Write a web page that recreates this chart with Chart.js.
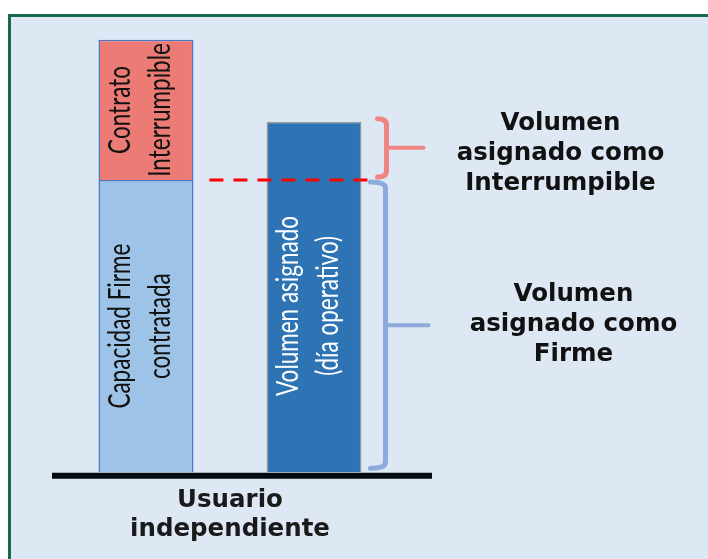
<!DOCTYPE html>
<html lang="es">
<head>
<meta charset="utf-8">
<title>Capacidad firme e interrumpible</title>
<script src="https://cdn.jsdelivr.net/npm/chart.js@4.4.1/dist/chart.umd.min.js"></script>
<style>
  html, body { margin: 0; padding: 0; background: #ffffff; overflow: hidden; }
  #marco {
    position: absolute; left: 8px; top: 14px; width: 720px; height: 600px;
    border: 3px solid #17694a; background: #dde8f4;
  }
  #grafico { position: absolute; left: 0; top: 0; }
</style>
</head>
<body>
<div id="marco"></div>
<canvas id="grafico" width="708" height="559"></canvas>
<script>
// -----------------------------------------------
// datos (valores relativos)
// -----------------------------------------------
const categorias = [["Usuario", "independiente"]];
const capacidadFirme = [100];
const contratoInterrumpible = [48];
const volumenAsignado = [120];

const etiquetaFirme = ["Capacidad Firme", "contratada"];
const etiquetaInterr = ["Contrato", "Interrumpible"];
const etiquetaAsignado = ["Volumen asignado", "(día operativo)"];

const textoInterr = ["Volumen", "asignado como", "Interrumpible"];
const textoFirme = ["Volumen", "asignado como", "Firme"];

// -----------------------------------------------
// textos girados dentro de las barras
// -----------------------------------------------
function textoVertical(ctx, lineas, cx, cy, color) {
  ctx.save();
  ctx.translate(cx, cy);
  ctx.rotate(-Math.PI / 2);
  ctx.scale(0.75, 1);
  ctx.fillStyle = color;
  ctx.font = "30px Lato";
  ctx.textAlign = "center";
  ctx.textBaseline = "middle";
  lineas.forEach((t, i) => {
    ctx.fillText(t, 0, (i - (lineas.length - 1) / 2) * 40 - 6);
  });
  ctx.restore();
}

// llave "}" a la derecha de la barra
function llave(ctx, x, yTop, yBot, curva, tallo, color) {
  const mid = (yTop + yBot) / 2;
  ctx.save();
  ctx.strokeStyle = color;
  ctx.lineWidth = 5;
  ctx.lineCap = "round";
  ctx.lineJoin = "round";
  ctx.beginPath();
  ctx.moveTo(x - curva, yTop);
  ctx.quadraticCurveTo(x, yTop, x, yTop + 6);
  ctx.lineTo(x, yBot - 6);
  ctx.quadraticCurveTo(x, yBot, x - curva, yBot);
  ctx.stroke();
  ctx.lineWidth = 4;
  ctx.beginPath();
  ctx.moveTo(x, mid);
  ctx.lineTo(x + tallo, mid);
  ctx.stroke();
  ctx.restore();
}

function bloqueTexto(ctx, lineas, cx, cy) {
  ctx.save();
  ctx.fillStyle = "#111111";
  ctx.font = "bold 24.5px 'DejaVu Sans'";
  ctx.textAlign = "center";
  ctx.textBaseline = "middle";
  lineas.forEach((t, i) => {
    ctx.fillText(t, cx, cy + (i - (lineas.length - 1) / 2) * 30);
  });
  ctx.restore();
}

const anotaciones = {
  id: "anotaciones",
  afterDatasetsDraw(chart) {
    const ctx = chart.ctx;
    const y = chart.scales.y;
    const area = chart.chartArea;
    const firme = chart.getDatasetMeta(0).data[0];
    const interr = chart.getDatasetMeta(1).data[0];
    const asig = chart.getDatasetMeta(2).data[0];

    // línea base (eje)
    const y0 = y.getPixelForValue(0);
    ctx.save();
    ctx.strokeStyle = "#050a10";
    ctx.lineWidth = 6;
    ctx.beginPath();
    ctx.moveTo(area.left, y0 + 3.5);
    ctx.lineTo(area.right + 24, y0 + 3.5);
    ctx.stroke();
    ctx.restore();

    // textos en las barras
    textoVertical(ctx, etiquetaFirme, firme.x, (firme.y + firme.base) / 2, "#111111");
    textoVertical(ctx, etiquetaInterr, interr.x, (interr.y + interr.base) / 2, "#111111");
    textoVertical(ctx, etiquetaAsignado, asig.x, (asig.y + asig.base) / 2 + 9, "#ffffff");

    // línea discontinua al nivel de la capacidad firme
    const yF = y.getPixelForValue(capacidadFirme[0]);
    ctx.save();
    ctx.strokeStyle = "#ff0000";
    ctx.lineWidth = 3;
    ctx.setLineDash([14, 10]);
    ctx.beginPath();
    ctx.moveTo(firme.x + firme.width / 2 + 16, yF);
    ctx.lineTo(asig.x + asig.width / 2 + 6, yF);
    ctx.stroke();
    ctx.restore();

    // llaves y textos de la derecha
    const xd = asig.x + asig.width / 2;
    const yA = y.getPixelForValue(volumenAsignado[0]);
    llave(ctx, xd + 25, yA - 3, yF - 3, 9, 37, "#ee8580");
    llave(ctx, xd + 24, yF + 2, y0 - 4, 15, 43, "#8eaadc");
    bloqueTexto(ctx, textoInterr, xd + 199, (yA + yF) / 2 + 3);
    bloqueTexto(ctx, textoFirme, xd + 212, (yF + y0) / 2 - 2);
  }
};

new Chart(document.getElementById("grafico"), {
  type: "bar",
  data: {
    labels: categorias,
    datasets: [
      {
        label: "Capacidad Firme contratada",
        data: capacidadFirme,
        stack: "contrato",
        backgroundColor: "#9dc3e6",
        borderColor: "#4a78c4",
        borderWidth: 1.5
      },
      {
        label: "Contrato Interrumpible",
        data: contratoInterrumpible,
        stack: "contrato",
        backgroundColor: "#ec7b76",
        borderColor: "#4a78c4",
        borderWidth: 1.5
      },
      {
        label: "Volumen asignado (día operativo)",
        data: volumenAsignado,
        stack: "asignado",
        backgroundColor: "#2e74b5",
        borderColor: "#9a9a9a",
        borderWidth: 1.5
      }
    ]
  },
  options: {
    responsive: false,
    animation: false,
    categoryPercentage: 0.944,
    barPercentage: 0.565,
    layout: { padding: { left: 52, right: 300, top: 34, bottom: 1 } },
    plugins: {
      legend: { display: false },
      tooltip: { enabled: false }
    },
    scales: {
      x: {
        stacked: true,
        grid: { display: false, drawTicks: false },
        border: { display: false },
        ticks: {
          padding: 13,
          color: "#1a1a1a",
          font: { family: "'DejaVu Sans'", size: 24.5, weight: "bold", lineHeight: 1.22 }
        }
      },
      y: {
        display: false,
        stacked: true,
        min: 0,
        max: 150
      }
    }
  },
  plugins: [anotaciones]
});
</script>
</body>
</html>
